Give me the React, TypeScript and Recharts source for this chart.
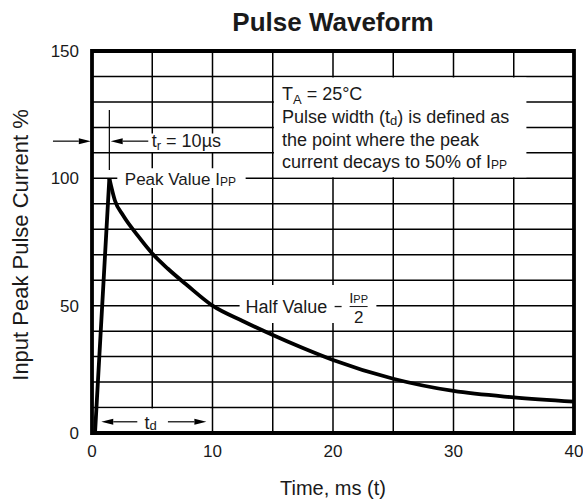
import React from 'react';
import { LineChart, Line, XAxis, YAxis, CartesianGrid, ReferenceArea, ReferenceLine } from 'recharts';

// grid every 5 ms / 10 %, labels only on some of them
const timeTicks = [0, 5, 10, 15, 20, 25, 30, 35, 40];
const currentTicks = [0, 10, 20, 30, 40, 50, 60, 70, 80, 90, 100, 110, 120, 130, 140, 150];

// front edge of the pulse (t in ms, current in % of Ipp)
const riseTime = [0, 0.25, 1.44];
const riseCurrent = [0, 0, 100];

// decay after the peak
const decayTime = [1.44, 1.9, 2.6, 3.8, 5, 6.3, 7.9, 10, 12.5, 15, 17.5, 20, 25, 30, 35, 40];
const decayCurrent = [100, 91.3, 85.3, 77.5, 70.5, 64.5, 58, 50, 44, 38.5, 33.4, 28.7, 21.3, 16.5, 14, 12.3];

const riseData = riseTime.map((t, i) => ({ t, i: riseCurrent[i] }));
const decayData = decayTime.map((t, i) => ({ t, i: decayCurrent[i] }));

const font = '"Liberation Sans", Arial, Helvetica, sans-serif';
const ink = '#1a1a1a';

const arrowShape = (props: any) => {
  const { x1, y1, x2, y2 } = props;
  const ang = Math.atan2(y2 - y1, x2 - x1);
  const len = 12;
  const half = 3;
  const bx = x2 - len * Math.cos(ang);
  const by = y2 - len * Math.sin(ang);
  const px = -Math.sin(ang) * half;
  const py = Math.cos(ang) * half;
  return (
    <g>
      <line x1={x1} y1={y1} x2={bx} y2={by} stroke="#000" strokeWidth={1.2} />
      <polygon points={`${x2},${y2} ${bx + px},${by + py} ${bx - px},${by - py}`} fill="#000" />
    </g>
  );
};

const infoLabel = ({ viewBox }: any) => {
  const { x, y } = viewBox;
  const tx = x + 8;
  return (
    <g fontFamily={font} fontSize={18} fill={ink}>
      <text x={tx} y={y + 23}>
        T<tspan fontSize={13} dy={4}>A</tspan><tspan dy={-4}> = 25°C</tspan>
      </text>
      <text x={tx} y={y + 46}>
        Pulse width (t<tspan fontSize={13} dy={2}>d</tspan><tspan dy={-2}>) is defined as</tspan>
      </text>
      <text x={tx} y={y + 69}>the point where the peak</text>
      <text x={tx} y={y + 91}>
        current decays to 50% of I<tspan fontSize={12} dy={1}>PP</tspan>
      </text>
    </g>
  );
};

const riseLabel = ({ viewBox }: any) => {
  const { x, y } = viewBox;
  return (
    <text x={x + 2.5} y={y + 13.5} fontFamily={font} fontSize={18} fill={ink}>
      t<tspan fontSize={13} dy={3}>r</tspan><tspan dy={-3}> = 10µs</tspan>
    </text>
  );
};

const peakLabel = ({ viewBox }: any) => {
  const { x, y } = viewBox;
  return (
    <text x={x + 7.5} y={y + 16.5} fontFamily={font} fontSize={17} fill={ink}>
      Peak Value I<tspan fontSize={12} dy={1}>PP</tspan>
    </text>
  );
};

const halfLabel = ({ viewBox }: any) => {
  const { x, y } = viewBox;
  return (
    <g fontFamily={font} fill={ink}>
      <text x={x + 6} y={y + 28} fontSize={18}>Half Value</text>
      <line x1={x + 95} x2={x + 102} y1={y + 21.5} y2={y + 21.5} stroke={ink} strokeWidth={1.3} />
      <text x={x + 119} y={y + 18} fontSize={15} textAnchor="middle">
        I<tspan fontSize={11}>PP</tspan>
      </text>
      <line x1={x + 110} x2={x + 128} y1={y + 21.5} y2={y + 21.5} stroke={ink} strokeWidth={1} />
      <text x={x + 119} y={y + 37.5} fontSize={17} textAnchor="middle">2</text>
    </g>
  );
};

const widthLabel = ({ viewBox }: any) => {
  const { x, y } = viewBox;
  return (
    <text x={x + 52.5} y={y + 20} fontFamily={font} fontSize={18} fill={ink} textAnchor="middle">
      t<tspan fontSize={13} dy={1}>d</tspan>
    </text>
  );
};

const yTitle = ({ viewBox }: any) => {
  const { x, y, height } = viewBox;
  const cx = x + 28;
  const cy = y + height / 2 + 3;
  return (
    <text x={cx} y={cy} transform={`rotate(-90 ${cx} ${cy})`} textAnchor="middle"
      fontFamily={font} fontSize={22} fill={ink}>
      Input Peak Pulse Current %
    </text>
  );
};

const xTitle = ({ viewBox }: any) => {
  const { x, y, width } = viewBox;
  return (
    <text x={x + width / 2} y={y + 62} textAnchor="middle" fontFamily={font} fontSize={20} fill={ink}>
      Time, ms (t)
    </text>
  );
};

export default function App() {
  return (
    <div style={{ position: 'relative', width: 583, height: 504, fontFamily: font }}>
      <style>{'body{margin:0}'}</style>
      <div style={{ position: 'absolute', left: 92, width: 482, top: 9, textAlign: 'center',
        fontSize: 26, lineHeight: '26px', fontWeight: 'bold', color: ink }}>
        Pulse Waveform
      </div>
      <LineChart width={583} height={504} margin={{ top: 51, right: 9, bottom: 0, left: 0 }}
        style={{ fontFamily: font }}>
        <CartesianGrid stroke="#000" strokeWidth={1.5} />
        <XAxis type="number" dataKey="t" domain={[0, 40]} ticks={timeTicks} interval={0}
          height={71} axisLine={false} tickLine={false} tickSize={0} tickMargin={12}
          tick={{ fontSize: 17, fill: ink }}
          tickFormatter={(v: number) => (v % 10 === 0 ? String(v) : '')}
          label={{ content: xTitle }} />
        <YAxis type="number" domain={[0, 150]} ticks={currentTicks} interval={0}
          width={92} axisLine={false} tickLine={false} tickSize={0} tickMargin={13}
          tick={{ fontSize: 17, fill: ink }}
          tickFormatter={(v: number) => (v % 50 === 0 ? String(v) : '')}
          label={{ content: yTitle }} />

        <ReferenceArea x1={15.1} x2={36.05} y1={100.4} y2={139.6} fill="#fff" fillOpacity={1} stroke="none"
          label={{ content: infoLabel }} />
        <ReferenceArea x1={4.75} x2={11.3} y1={110.3} y2={117.6} fill="#fff" fillOpacity={1} stroke="none"
          label={{ content: riseLabel }} />
        <ReferenceArea x1={2.1} x2={12.75} y1={96.2} y2={104} fill="#fff" fillOpacity={1} stroke="none"
          label={{ content: peakLabel }} />
        <ReferenceArea x1={12.25} x2={23.6} y1={43.2} y2={58.1} fill="#fff" fillOpacity={1} stroke="none"
          label={{ content: halfLabel }} />
        <ReferenceArea x1={0.5} x2={9.8} y1={0.8} y2={9.6} fill="#fff" fillOpacity={1} stroke="none"
          label={{ content: widthLabel }} />

        <ReferenceLine segment={[{ x: 1.44, y: 126.8 }, { x: 1.44, y: 103.3 }]} stroke="#000" strokeWidth={1.2}
          ifOverflow="visible" />
        <ReferenceLine segment={[{ x: -3.24, y: 114.6 }, { x: -0.1, y: 114.6 }]} ifOverflow="visible" shape={arrowShape} />
        <ReferenceLine segment={[{ x: 4.67, y: 114.6 }, { x: 1.55, y: 114.6 }]} ifOverflow="visible" shape={arrowShape} />
        <ReferenceLine segment={[{ x: 3.76, y: 4.4 }, { x: 0.77, y: 4.4 }]} ifOverflow="visible" shape={arrowShape} />
        <ReferenceLine segment={[{ x: 6.3, y: 4.4 }, { x: 9.49, y: 4.4 }]} ifOverflow="visible" shape={arrowShape} />

        <ReferenceArea x1={0} x2={40} y1={0} y2={150} fill="none" stroke="#000" strokeWidth={3.8} />

        <Line data={riseData} dataKey="i" type="linear" stroke="#000" strokeWidth={3.8} dot={false}
          isAnimationActive={false} />
        <Line data={decayData} dataKey="i" type="monotone" stroke="#000" strokeWidth={3.8} dot={false}
          isAnimationActive={false} />
      </LineChart>
    </div>
  );
}
